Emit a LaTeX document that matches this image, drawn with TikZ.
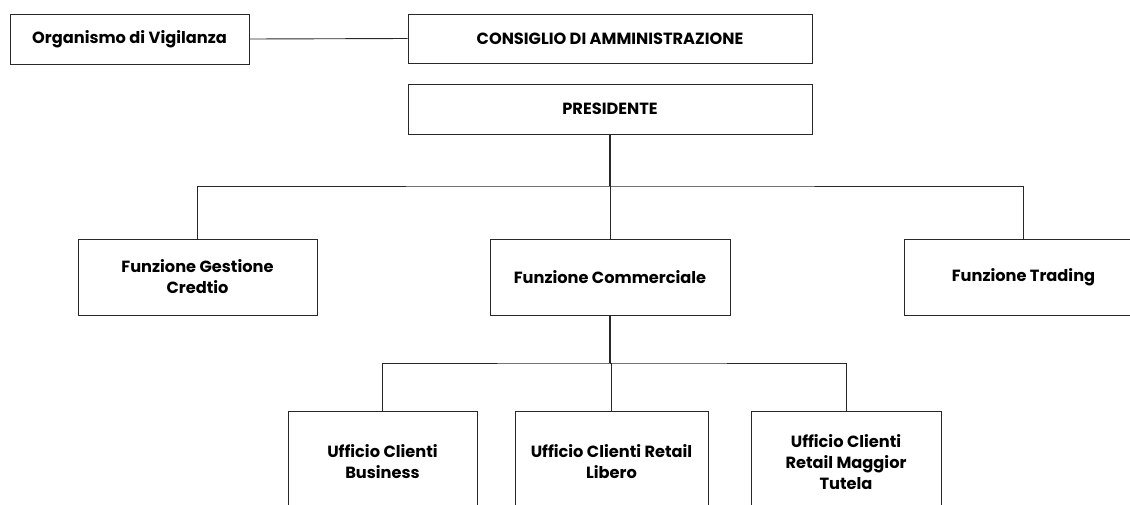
\documentclass[tikz,border=0pt]{standalone}
\usepackage{fontspec}
\setmainfont{Poppins}
\usepackage{tikz}
\usetikzlibrary{positioning, calc}
\definecolor{orgline}{RGB}{40,40,40}

\begin{document}
\begin{tikzpicture}[x=1pt, y=-1pt,
  box/.style={draw=orgline, line width=0.9pt, fill=white, align=center,
    font=\fontsize{16.2}{21}\selectfont\bfseries, inner sep=2pt},
  link/.style={draw=orgline, line width=0.9pt},
  stem/.style={draw=orgline, line width=1.4pt}]
% Canvas
\useasboundingbox (0,0) rectangle (1130,504);
\clip (0,0) rectangle (1130,504);

% Top row
\node[box, minimum width=239pt, minimum height=50pt] (odv) at (129.5,39) {Organismo di Vigilanza};
\node[box, minimum width=404pt, minimum height=49pt] (cda) at (610,38.5) {CONSIGLIO DI AMMINISTRAZIONE};
\node[box, minimum width=404pt, minimum height=50pt] (pres) at (610,109) {PRESIDENTE};

% Functions
\node[box, minimum width=239pt, minimum height=76pt] (gest) at (197.5,277) {Funzione Gestione\\Credtio};
\node[box, minimum width=240pt, minimum height=76pt] (comm) at (610,277) {Funzione Commerciale};
\node[box, minimum width=239pt, minimum height=76pt] (trad) at (1023.5,277) {Funzione Trading};

% Offices
\node[box, minimum width=189pt, minimum height=102pt] (biz) at (382.5,462) {Ufficio Clienti\\Business};
\node[box, minimum width=193pt, minimum height=102pt] (lib) at (611.5,462) {Ufficio Clienti Retail\\Libero};
\node[box, minimum width=190pt, minimum height=102pt] (tut) at (846,462) {Ufficio Clienti\\Retail Maggior\\Tutela};

% Bars
\coordinate (bar1) at (610,186);
\coordinate (bar2) at (610,363);

% Connectors
\draw[link] (odv.east) -- (cda.west);
\draw[stem] (pres.south) -- (bar1);
\draw[link] (gest.north) |- (bar1) -| (trad.north);
\draw[link] (bar1) -- (comm.north);
\draw[stem] (comm.south) -- (bar2);
\draw[link] (biz.north) |- (bar2) -| (tut.north);
\draw[link] (bar2) -- (bar2 -| lib.north) -- (lib.north);
\end{tikzpicture}
\end{document}
